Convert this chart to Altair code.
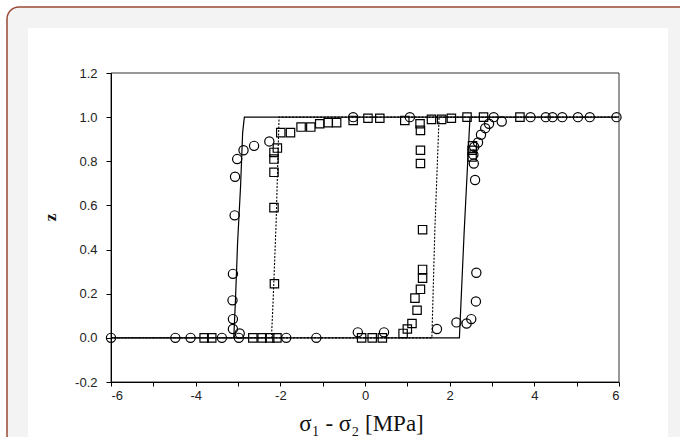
import altair as alt
import pandas as pd

# Measured transformation fraction z versus stress difference (sigma1 - sigma2)
circle_x = [-6.0, -4.48, -4.12, -3.38, -2.98, -2.96, -3.12, -3.12, -3.13, -3.12, -3.08,
            -3.07, -3.02, -2.87, -2.62, -2.26, -1.86, -1.15, -0.17, 0.45, 1.70, 2.16,
            2.40, 2.51, 2.62, 2.63, 2.60, 2.57, 2.56, 2.58, 2.67, 2.74, 2.84, 2.93,
            3.23, 3.04, -0.28, 1.06, 3.91, 4.27, 4.43, 4.66, 5.03, 5.31, 5.94]
circle_z = [0.0, 0.0, 0.0, 0.0, 0.0, 0.02, 0.04, 0.085, 0.17, 0.29, 0.555,
            0.73, 0.81, 0.85, 0.87, 0.89, 0.0, 0.0, 0.025, 0.025, 0.04, 0.07,
            0.065, 0.085, 0.165, 0.295, 0.715, 0.79, 0.83, 0.865, 0.885, 0.92, 0.95, 0.97,
            0.98, 1.0, 1.0, 1.0, 1.0, 1.0, 1.0, 1.0, 1.0, 1.0, 1.0]

square_x = [-3.80, -3.62, -2.65, -2.43, -2.25, -2.08, -0.08, 0.17, 0.41,
            -2.14, -2.15, -2.15, -2.15, -2.15, -2.07, -1.99, -1.76, -1.51, -1.28,
            -1.07, -0.87, -0.67, -0.28, 0.07, 0.35, 0.94, 1.30, 1.31, 1.31, 1.31,
            1.36, 1.36, 1.36, 1.31, 1.18, 1.23, 1.11, 1.00, 0.90,
            1.57, 1.81, 2.04, 2.41, 2.80, 3.66, 2.53, 2.53, 2.54]
square_z = [0.0, 0.0, 0.0, 0.0, 0.0, 0.0, 0.0, 0.0, 0.0,
            0.245, 0.59, 0.75, 0.81, 0.84, 0.86, 0.93, 0.93, 0.955, 0.955,
            0.97, 0.975, 0.975, 0.985, 0.995, 0.995, 0.985, 0.97, 0.94, 0.85, 0.79,
            0.49, 0.31, 0.27, 0.22, 0.18, 0.125, 0.065, 0.04, 0.02,
            0.99, 0.99, 0.995, 1.0, 1.0, 1.0, 0.82, 0.85, 0.87]

# Model hysteresis loops (loading branch, then unloading branch)
solid_x = [-6.0, 2.23, 2.34, 2.44, 2.48, 6.0, 6.0, -2.85, -2.89, -2.94, -3.01, -3.06, -3.10, -6.0]
solid_z = [0.0, 0.0, 0.47, 0.85, 1.0, 1.0, 1.0, 1.0, 0.93, 0.685, 0.43, 0.17, 0.0, 0.0]
dotted_x = [-6.0, 1.58, 1.65, 1.75, 6.0, 6.0, -2.03, -2.10, -2.17, -2.21, -6.0]
dotted_z = [0.0, 0.0, 0.49, 1.0, 1.0, 1.0, 1.0, 0.52, 0.17, 0.0, 0.0]

x_ticks = list(range(-6, 7))
y_ticks = [round(-0.2 + 0.1 * i, 1) for i in range(15)]

W, H = 508, 309

circles = pd.DataFrame({"x": circle_x, "z": circle_z})
squares = pd.DataFrame({"x": square_x, "z": square_z})
solid = pd.DataFrame({"x": solid_x, "z": solid_z, "k": range(len(solid_x))})
dotted = pd.DataFrame({"x": dotted_x, "z": dotted_z, "k": range(len(dotted_x))})

x_scale = alt.Scale(domain=[-6, 6], nice=False, zero=False)
y_scale = alt.Scale(domain=[-0.2, 1.2], nice=False, zero=False)

x_axis = alt.Axis(
    values=x_ticks,
    labelExpr="datum.value % 2 == 0 ? '' + datum.value : ''",
    title="σ₁ - σ₂ [MPa]",
    titleFont="Liberation Serif", titleFontSize=23, titleFontWeight="normal",
    titleColor="#111", titleX=250, titleY=48, titleAlign="center",
    titleBaseline="alphabetic",
    tickSize=4, labelPadding=3, grid=False, zindex=1,
    labelFontSize=13,
)
y_axis = alt.Axis(
    values=y_ticks,
    labelExpr="abs(round(datum.value * 10)) % 2 == 0 ? replace(format(datum.value, '.1f'), '\u2212', '-') : ''",
    title="z",
    titleFont="Liberation Serif", titleFontSize=17, titleFontWeight="bold",
    titleColor="#111", titleAngle=270, titleX=-61, titleY=144,
    titleAlign="center", titleBaseline="middle",
    tickSize=5, labelPadding=9, grid=False, zindex=1,
    labelFontSize=13,
)

# Page decoration: rounded grey card with a white panel
card = alt.Chart(pd.DataFrame({"a": [0]})).mark_rect(
    fill="#f3f3f3", stroke="#9b4a32", strokeWidth=1.5, cornerRadius=12
).encode(x=alt.value(-104), x2=alt.value(620), y=alt.value(-66), y2=alt.value(420))
panel = alt.Chart(pd.DataFrame({"a": [0]})).mark_rect(fill="white").encode(
    x=alt.value(-83), x2=alt.value(557), y=alt.value(-45), y2=alt.value(380)
)

solid_line = alt.Chart(solid).mark_line(color="black", strokeWidth=1.2).encode(
    x=alt.X("x:Q", scale=x_scale, axis=x_axis),
    y=alt.Y("z:Q", scale=y_scale, axis=y_axis),
    order="k:Q",
)
dotted_line = alt.Chart(dotted).mark_line(
    color="black", strokeWidth=1.1, strokeDash=[2, 1.5]
).encode(x=alt.X("x:Q", scale=x_scale), y=alt.Y("z:Q", scale=y_scale), order="k:Q")

circle_pts = alt.Chart(circles).mark_point(
    shape="circle", size=85, filled=False, color="black", strokeWidth=1.2, opacity=1
).encode(x=alt.X("x:Q", scale=x_scale), y=alt.Y("z:Q", scale=y_scale))
square_pts = alt.Chart(squares).mark_point(
    shape="square", size=70, filled=False, color="black", strokeWidth=1.2, opacity=1
).encode(x=alt.X("x:Q", scale=x_scale), y=alt.Y("z:Q", scale=y_scale))

frame = alt.Chart(pd.DataFrame({"a": [0]})).mark_rect(
    fill=None, stroke="#333", strokeWidth=1
).encode(x=alt.value(0), x2=alt.value(W), y=alt.value(0), y2=alt.value(H))

chart = alt.layer(
    card, panel, solid_line, dotted_line, square_pts, circle_pts, frame
).properties(
    width=W, height=H,
    autosize=alt.AutoSizeParams(type="none"),
    padding={"left": 111, "top": 73, "right": 61, "bottom": 55},
    background="white",
).configure_view(stroke=None).configure_axis(
    zindex=1, domainColor="black", domainWidth=1, tickColor="black", tickWidth=1,
    labelFont="Liberation Sans", labelFontSize=13, labelColor="#222",
)

chart.save("out.html", embed_options={"renderer": "svg", "actions": False})
